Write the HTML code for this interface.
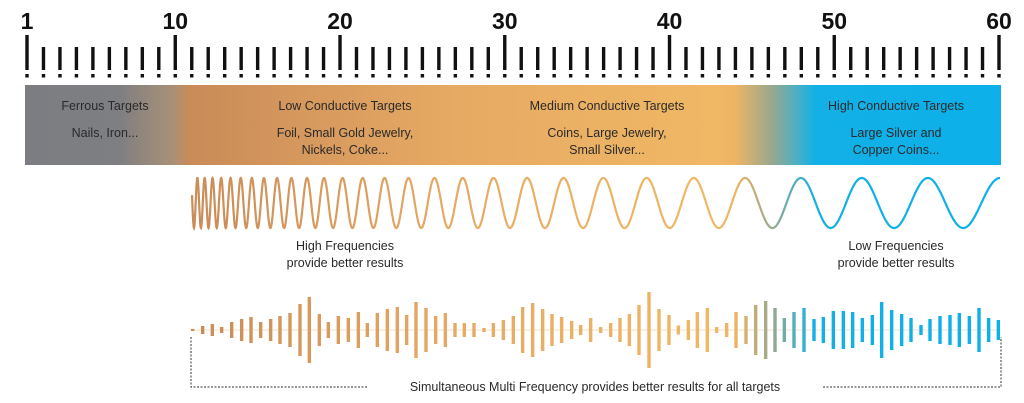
<!DOCTYPE html>
<html><head><meta charset="utf-8"><style>
html,body{margin:0;padding:0;background:#fff;}
svg{display:block;font-family:"Liberation Sans",sans-serif;}
</style></head><body>
<svg id="s" width="1024" height="403" viewBox="0 0 1024 403" xmlns="http://www.w3.org/2000/svg">
<defs>
<linearGradient id="g" gradientUnits="userSpaceOnUse" x1="25" y1="0" x2="1001" y2="0">
<stop offset="0" stop-color="#7b7d82"/>
<stop offset="0.097" stop-color="#7e7f82"/>
<stop offset="0.15" stop-color="#a89078"/>
<stop offset="0.169" stop-color="#c98b58"/>
<stop offset="0.43" stop-color="#e6a963"/>
<stop offset="0.71" stop-color="#f0b865"/>
<stop offset="0.728" stop-color="#edb464"/>
<stop offset="0.765" stop-color="#9aa88e"/>
<stop offset="0.795" stop-color="#3fb0cc"/>
<stop offset="0.81" stop-color="#12b0e6"/>
<stop offset="1" stop-color="#0db0ea"/>
</linearGradient>
</defs>
<g id="ruler" fill="#111"></g>
<rect x="25" y="85" width="976" height="80" fill="url(#g)"/>
<g font-size="12.5" fill="#2a2a2a" text-anchor="middle">
<text x="105" y="110">Ferrous Targets</text>
<text x="105" y="137">Nails, Iron...</text>
<text x="345" y="110">Low Conductive Targets</text>
<text x="345" y="137">Foil, Small Gold Jewelry,</text>
<text x="345" y="154">Nickels, Coke...</text>
<text x="607" y="110">Medium Conductive Targets</text>
<text x="607" y="137">Coins, Large Jewelry,</text>
<text x="607" y="154">Small Silver...</text>
<text x="896" y="110">High Conductive Targets</text>
<text x="896" y="137">Large Silver and</text>
<text x="896" y="154">Copper Coins...</text>
<text x="345" y="250">High Frequencies</text>
<text x="345" y="267">provide better results</text>
<text x="896" y="250">Low Frequencies</text>
<text x="896" y="267">provide better results</text>
<text x="595" y="391">Simultaneous Multi Frequency provides better results for all targets</text>
</g>
<path id="wave" fill="none" stroke="url(#g)" stroke-width="2.2"/>
<line x1="192" y1="330" x2="1000" y2="330" stroke="#f3ead8" stroke-width="1.5"/>
<g id="bars" fill="url(#g)"></g>
<path d="M191 337 V387 H367 M823 387 H1001 V337" fill="none" stroke="#333" stroke-width="1" stroke-dasharray="2,1.5"/>
</svg>
<script>
var NS="http://www.w3.org/2000/svg";
function el(t,a,p){var e=document.createElementNS(NS,t);for(var k in a)e.setAttribute(k,a[k]);p.appendChild(e);return e;}
var r=document.getElementById('ruler');
for(var i=1;i<=60;i++){
 var x=27+(i-1)*972/59;
 var big=(i==1||i%10==0);
 el('rect',{x:x-1.7,y:big?35:47,width:3.4,height:big?35:23},r);
 el('rect',{x:x-1.7,y:74,width:3.4,height:3.5},r);
 if(big){var t=el('text',{x:x,y:29,'font-size':23,'font-weight':'bold','text-anchor':'middle',fill:'#111'},r);t.textContent=i;}
}
var k=0.085,p0=6.5,C=2*Math.PI/k;
function ph(x){return C*Math.log((p0+k*(x-192))/p0);}
var p1000=ph(1000),d='';
for(var x=192;x<=1000;x+=0.25){var y=203-25*Math.cos(ph(x)-p1000);d+=(x==192?'M':'L')+x.toFixed(2)+' '+y.toFixed(2);}
document.getElementById('wave').setAttribute('d',d);
var a=[[38,1],[68,4],[97,6],[125,3],[155,8],[185,11],[213,13],[242,8],[272,11],[300,14],[330,17],[360,26],[388,33],[418,16],[445,8],[475,14],[505,12],[535,18],[562,7],[592,17],[622,21],[652,23],[680,15],[708,28],[738,22],[767,14],[796,17],[825,7],[853,7],[882,7],[912,2],[940,7],[970,10],[1000,14],[1028,23],[1058,27],[1088,21],[1116,16],[1145,13],[1175,9],[1202,5],[1232,12],[1262,3],[1292,7]];
var b=[[0,12],[28,16],[57,25],[87,38],[117,21],[147,15],[175,4.5],[205,10],[232,18],[262,22],[290,3],[320,7],[348,18],[378,14],[407,25],[437,29],[465,22],[493,12],[522,18],[552,22],[582,11],[610,13],[640,19],[670,19],[698,18],[727,12],[757,15],[785,28],[815,20],[845,16],[873,12],[903,5],[930,11],[960,14],[990,15],[1018,17],[1048,14],[1077,22],[1106,12],[1135,10]];
var bg=document.getElementById('bars');
function bar(x,h){el('rect',{x:x-1.7,y:330-h,width:3.4,height:2*h},bg);}
a.forEach(function(v){bar(180+v[0]/3,v[1]);});
b.forEach(function(v){bar(620+v[0]/3,v[1]);});
</script>
</body></html>
